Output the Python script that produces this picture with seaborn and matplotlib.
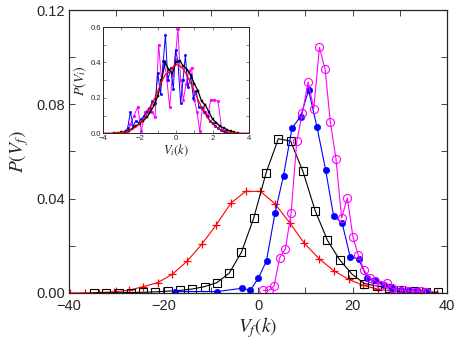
import numpy as np
import matplotlib
matplotlib.use("Agg")
import matplotlib.pyplot as plt
from matplotlib.ticker import MultipleLocator, FormatStrFormatter
import seaborn as sns

# main panel: final velocity distributions
red_x = [-39.8, -36.7, -33.6, -30.5, -27.4, -24.3, -21.2, -18.1, -15.0, -11.9, -8.8, -5.7, -2.6,
         0.5, 3.6, 6.7, 9.8, 12.9, 16.0, 19.2, 22.3, 25.4, 28.5, 31.6, 34.7, 37.8]
red_y = [0.0, 0.0001, 0.0002, 0.0005, 0.0011, 0.0027, 0.0044, 0.0080, 0.0135, 0.0207, 0.0290,
         0.0382, 0.0431, 0.0431, 0.0378, 0.0298, 0.0211, 0.0146, 0.0095, 0.0058, 0.0032, 0.0016,
         0.0008, 0.0003, 0.0001, 0.0]

black_x = [-34.7, -32.1, -29.5, -26.9, -24.3, -21.7, -19.1, -16.5, -13.9, -11.3, -8.7, -6.1, -3.5,
           -0.9, 1.7, 4.3, 6.9, 9.5, 12.1, 14.7, 17.3, 19.9, 22.5, 25.1, 27.7, 30.3, 32.9, 35.5, 38.1]
black_y = [0.0001, 0.0001, 0.0001, 0.0002, 0.0003, 0.0005, 0.0008, 0.0011, 0.0017, 0.0027, 0.0044,
           0.0084, 0.0173, 0.0318, 0.0509, 0.0654, 0.0644, 0.0516, 0.0349, 0.0223, 0.0140, 0.0080,
           0.0040, 0.0030, 0.0020, 0.0011, 0.0007, 0.0005, 0.0003]

blue_x = [-17.6, -8.7, -3.4, -1.6, 0.1, 1.8, 3.6, 5.4, 7.2, 9.0, 10.7, 12.5, 14.3, 16.0, 17.8,
          19.5, 21.3, 23.1, 24.8, 26.6, 28.4, 30.2, 32.0, 33.7, 35.5]
blue_y = [0.0006, 0.0006, 0.0020, 0.0012, 0.0064, 0.0137, 0.0339, 0.0498, 0.0699, 0.0748, 0.0860,
          0.0702, 0.0523, 0.0326, 0.0297, 0.0154, 0.0143, 0.0064, 0.0055, 0.0033, 0.0023, 0.0014,
          0.0011, 0.0014, 0.0004]

mag_x = [1.1, 2.3, 3.4, 4.6, 5.8, 7.0, 8.2, 9.4, 10.6, 11.8, 13.0, 14.2, 15.3, 16.5, 17.7, 18.9,
         20.1, 21.2, 22.4, 23.6, 24.8, 26.0, 27.2, 28.4, 29.6, 30.8, 32.0, 33.2, 34.4, 35.6]
mag_y = [0.0011, 0.0011, 0.0030, 0.0150, 0.0187, 0.0338, 0.0643, 0.0763, 0.0895, 0.0782, 0.1041,
         0.0949, 0.0726, 0.0569, 0.0318, 0.0403, 0.0237, 0.0162, 0.0098, 0.0064, 0.0052, 0.0033,
         0.0041, 0.0020, 0.0014, 0.0011, 0.0008, 0.0006, 0.0008, 0.0003]

# inset: initial velocity distributions
in_red_x = [-4.0, -3.8, -3.6, -3.4, -3.2, -3.0, -2.8, -2.6, -2.4, -2.2, -2.0, -1.8, -1.6, -1.4,
            -1.2, -1.0, -0.8, -0.6, -0.4, -0.2, 0.0, 0.2, 0.4, 0.6, 0.8, 1.0, 1.2, 1.4, 1.6, 1.8,
            2.0, 2.2, 2.4, 2.6, 2.8, 3.0, 3.2, 3.4, 3.6, 3.8, 4.0]
in_red_y = [0.0001, 0.0003, 0.0006, 0.0012, 0.0024, 0.0043, 0.0078, 0.0134, 0.022, 0.035, 0.053,
            0.077, 0.108, 0.146, 0.190, 0.237, 0.290, 0.330, 0.345, 0.372, 0.388, 0.382, 0.362,
            0.326, 0.284, 0.237, 0.190, 0.146, 0.108, 0.077, 0.053, 0.035, 0.022, 0.013, 0.008,
            0.004, 0.002, 0.001, 0.0006, 0.0003, 0.0001]

in_black_x = [-3.4, -3.2, -3.0, -2.8, -2.6, -2.4, -2.2, -2.0, -1.8, -1.6, -1.4, -1.2, -1.0, -0.8,
              -0.6, -0.4, -0.2, 0.0, 0.2, 0.4, 0.6, 0.8, 1.0, 1.2, 1.4, 1.6, 1.8, 2.0, 2.2, 2.4,
              2.6, 2.8, 3.0, 3.2, 3.4]
in_black_y = [0.0, 0.002, 0.005, 0.009, 0.015, 0.025, 0.040, 0.055, 0.070, 0.090, 0.120, 0.160,
              0.210, 0.300, 0.400, 0.360, 0.340, 0.400, 0.410, 0.380, 0.360, 0.330, 0.280, 0.240,
              0.180, 0.160, 0.120, 0.080, 0.060, 0.040, 0.030, 0.020, 0.010, 0.005, 0.001]

in_blue_x = [-2.8, -2.65, -2.5, -2.35, -2.2, -2.05, -1.9, -1.75, -1.6, -1.45, -1.3, -1.15, -1.0,
             -0.85, -0.7, -0.58, -0.45, -0.3, -0.15, -0.03, 0.1, 0.25, 0.38, 0.51, 0.65, 0.8, 0.95,
             1.1, 1.25, 1.4, 1.55, 1.7, 1.85, 2.0, 2.15, 2.3, 2.45, 2.6, 2.75]
in_blue_y = [0.01, 0.03, 0.12, 0.04, 0.07, 0.06, 0.08, 0.10, 0.12, 0.14, 0.18, 0.17, 0.34, 0.22,
             0.41, 0.555, 0.30, 0.37, 0.25, 0.47, 0.41, 0.17, 0.30, 0.44, 0.26, 0.32, 0.20, 0.24,
             0.15, 0.14, 0.12, 0.10, 0.07, 0.06, 0.04, 0.03, 0.02, 0.01, 0.005]

in_mag_x = [-2.7, -2.5, -2.3, -2.1, -1.9, -1.7, -1.5, -1.3, -1.15, -0.95, -0.8, -0.65, -0.5, -0.35,
            -0.2, -0.05, 0.1, 0.25, 0.4, 0.55, 0.7, 0.85, 1.0, 1.15, 1.3, 1.45, 1.6, 1.75, 1.9, 2.1,
            2.3, 2.5, 2.7, 2.9]
in_mag_y = [0.0, 0.05, 0.10, 0.15, 0.01, 0.12, 0.14, 0.12, 0.09, 0.50, 0.30, 0.41, 0.30, 0.15,
            0.33, 0.42, 0.59, 0.30, 0.19, 0.28, 0.35, 0.37, 0.19, 0.12, 0.01, 0.15, 0.12, 0.10,
            0.19, 0.19, 0.18, 0.02, 0.01, 0.0]

sns.set_style("ticks")
plt.rcParams['font.family'] = ['Liberation Sans', 'DejaVu Sans']
plt.rcParams['mathtext.fontset'] = 'stix'
plt.rcParams['axes.unicode_minus'] = True
plt.rcParams['xtick.direction'] = 'in'
plt.rcParams['ytick.direction'] = 'in'

fig = plt.figure(figsize=(4.63, 3.39), dpi=100)
ax = fig.add_axes([0.149, 0.1357, 0.8165, 0.8348])

lw = 0.8
sns.lineplot(x=red_x, y=red_y, ax=ax, color='#ff0000', lw=lw, marker='+', ms=6,
             mec='#ff0000', mew=0.9, sort=False)
sns.lineplot(x=black_x, y=black_y, ax=ax, color='black', lw=lw, marker='s', ms=5.2,
             mfc='none', mec='black', mew=0.8, sort=False)
sns.lineplot(x=blue_x, y=blue_y, ax=ax, color='#0000ff', lw=lw, marker='o', ms=4.5,
             mfc='#0000ff', mec='#0000ff', mew=0.5, sort=False)
sns.lineplot(x=mag_x, y=mag_y, ax=ax, color='#ff00ff', lw=lw, marker='o', ms=5.8,
             mfc='none', mec='#ff00ff', mew=0.8, sort=False)

ax.set_xlim(-40, 40)
ax.set_ylim(0, 0.12)
ax.xaxis.set_major_locator(MultipleLocator(20))
ax.xaxis.set_minor_locator(MultipleLocator(10))
ax.yaxis.set_major_locator(MultipleLocator(0.04))
ax.yaxis.set_minor_locator(MultipleLocator(0.02))
ax.yaxis.set_major_formatter(FormatStrFormatter('%.2f'))
ax.tick_params(which='both', top=True, right=True, labelsize=10.5, length=4, width=0.6)
ax.tick_params(axis='x', pad=4.5)
ax.tick_params(axis='y', pad=3)
for s in ax.spines.values():
    s.set_linewidth(0.9)
ax.set_xlabel(r'$V_f(k)$', fontsize=14, labelpad=1)
ax.set_ylabel(r'$P(V_f)$', fontsize=14, labelpad=4)

# inset
ins = fig.add_axes([0.2225, 0.607, 0.3155, 0.313])
sns.lineplot(x=in_mag_x, y=in_mag_y, ax=ins, color='#ff00ff', lw=0.7, marker='o', ms=2,
             mfc='#ff00ff', mec='#ff00ff', mew=0.3, sort=False)
sns.lineplot(x=in_blue_x, y=in_blue_y, ax=ins, color='#0000ff', lw=0.7, marker='o', ms=1.8,
             mfc='#0000ff', mec='#0000ff', mew=0.3, sort=False)
sns.lineplot(x=in_black_x, y=in_black_y, ax=ins, color='black', lw=0.9, marker='s', ms=1.8,
             mfc='black', mec='black', mew=0.3, sort=False)
sns.lineplot(x=in_red_x, y=in_red_y, ax=ins, color='#ff0000', lw=0.9, sort=False)
ins.set_xlim(-4, 4)
ins.set_ylim(0, 0.6)
ins.xaxis.set_major_locator(MultipleLocator(2))
ins.xaxis.set_minor_locator(MultipleLocator(1))
ins.yaxis.set_major_locator(MultipleLocator(0.2))
ins.yaxis.set_minor_locator(MultipleLocator(0.1))
ins.yaxis.set_major_formatter(FormatStrFormatter('%.1f'))
ins.tick_params(which='both', top=True, right=True, labelsize=5.5, length=2, width=0.4, pad=1.5)
for s in ins.spines.values():
    s.set_linewidth(0.7)
ins.set_xlabel(r'$V_i(k)$', fontsize=9, labelpad=0)
ins.set_ylabel(r'$P(V_i)$', fontsize=10, labelpad=1)

fig.savefig('out.png', dpi=100)
